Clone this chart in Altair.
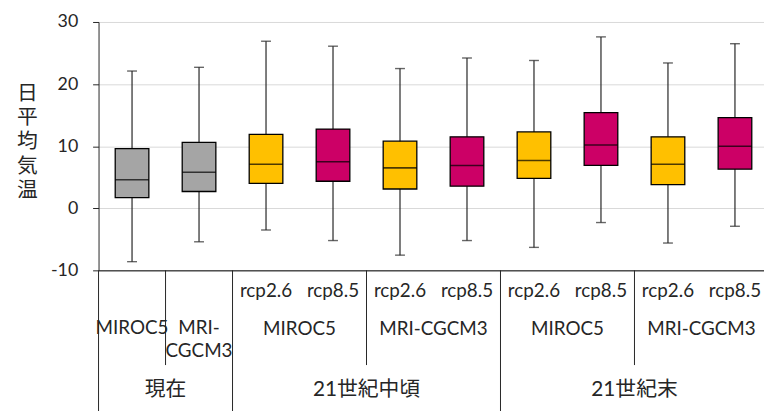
import altair as alt
import pandas as pd

# ---- data ----
keys = ["now_MIROC5", "now_MRI", "mid_MIROC5_26", "mid_MIROC5_85", "mid_MRI_26",
        "mid_MRI_85", "end_MIROC5_26", "end_MIROC5_85", "end_MRI_26", "end_MRI_85"]
groups = ["現在", "現在", "rcp2.6", "rcp8.5", "rcp2.6", "rcp8.5", "rcp2.6", "rcp8.5", "rcp2.6", "rcp8.5"]
w_low = [-8.6, -5.4, -3.5, -5.2, -7.55, -5.2, -6.3, -2.3, -5.6, -2.9]
q1 = [1.7, 2.7, 4.0, 4.35, 3.1, 3.55, 4.8, 6.9, 3.8, 6.3]
median = [4.6, 5.8, 7.1, 7.5, 6.5, 6.9, 7.7, 10.2, 7.1, 10.0]
q3 = [9.6, 10.6, 11.9, 12.75, 10.8, 11.5, 12.3, 15.4, 11.5, 14.6]
w_high = [22.1, 22.7, 26.9, 26.1, 22.5, 24.2, 23.8, 27.6, 23.4, 26.5]

scenario_keys = keys[2:]
scenario_labels = ["rcp2.6", "rcp8.5"] * 4
now_model_keys = keys[0:2]
now_model_labels = ["MIROC5", "MRI-\nCGCM3"]
pair_model_keys = [keys[2], keys[4], keys[6], keys[8]]
pair_model_labels = ["MIROC5", "MRI-CGCM3", "MIROC5", "MRI-CGCM3"]
period_keys = [keys[0], keys[3], keys[7]]
period_labels = ["現在", "21世紀中頃", "21世紀末"]
tall_sep_keys = [keys[0], keys[2], keys[6]]
mid_sep_keys = [keys[1], keys[4], keys[8]]

group_domain = ["現在", "rcp2.6", "rcp8.5"]
group_colors = ["#A5A5A5", "#FFC000", "#CC0066"]

df = pd.DataFrame({"key": keys, "group": groups, "lo": w_low, "q1": q1,
                   "med": median, "q3": q3, "hi": w_high})

TXT = "#262626"
LFONT = "Lato, Noto Sans CJK JP"

xscale = alt.Scale(domain=keys, range=[0, 677], paddingInner=0, paddingOuter=0)
xaxis = alt.Axis(labels=False, ticks=False, title=None, grid=False,
                 domainColor="#000000", domainWidth=1)


def X(bp=0.5):
    return alt.X("key:N", scale=xscale, axis=xaxis, bandPosition=bp)


yscale = alt.Scale(domain=[-10, 30], nice=False)
yaxis = alt.Axis(values=[-10, 0, 10, 20, 30], grid=True, gridColor="#D9D9D9", gridWidth=1,
                 domainColor=TXT, tickColor=TXT, tickSize=6, labelPadding=15,
                 labelFontSize=18, labelFont=LFONT, labelColor=TXT,
                 labelExpr="datum.value + ''",
                 title=["日", "平", "均", "気", "温"], titleAngle=0, titleX=-72.5, titleY=72.5,
                 titleAlign="center", titleBaseline="middle", titleFontSize=21,
                 titleFont="Noto Sans CJK JP", titleFontWeight="normal",
                 titleLineHeight=24.4, titleColor=TXT)

base = alt.Chart(df)

whisk = base.mark_rule(color="#262626", strokeWidth=1.2).encode(
    x=X(), y=alt.Y("lo:Q", scale=yscale, axis=yaxis), y2="hi:Q")
caps_lo = base.mark_tick(color="#262626", size=10, thickness=1.4).encode(
    x=X(), y=alt.Y("lo:Q", scale=yscale, axis=yaxis))
caps_hi = base.mark_tick(color="#262626", size=10, thickness=1.4).encode(
    x=X(), y=alt.Y("hi:Q", scale=yscale, axis=yaxis))
boxes = base.mark_bar(size=34, stroke="#000000", strokeWidth=1.3).encode(
    x=X(), y=alt.Y("q1:Q", scale=yscale, axis=yaxis), y2="q3:Q",
    color=alt.Color("group:N", scale=alt.Scale(domain=group_domain, range=group_colors), legend=None))
meds = base.mark_tick(color="#000000", size=34, thickness=1.6).encode(
    x=X(), y=alt.Y("med:Q", scale=yscale, axis=yaxis))

scen = alt.Chart(pd.DataFrame({"key": scenario_keys, "t": scenario_labels})).mark_text(
    fontSize=19, font=LFONT, color=TXT, baseline="middle", align="center").encode(
    x=X(), y=alt.value(272), text="t:N")
now_models = alt.Chart(pd.DataFrame({"key": now_model_keys, "t": now_model_labels})).mark_text(
    fontSize=19, font=LFONT, color=TXT, baseline="top", align="center", lineBreak="\n",
    lineHeight=23).encode(x=X(), y=alt.value(300.7), text="t:N")
pair_models = alt.Chart(pd.DataFrame({"key": pair_model_keys, "t": pair_model_labels})).mark_text(
    fontSize=19, font=LFONT, color=TXT, baseline="middle", align="center").encode(
    x=X(1), y=alt.value(310), text="t:N")
periods = alt.Chart(pd.DataFrame({"key": period_keys, "t": period_labels})).mark_text(
    fontSize=21, font=LFONT, color=TXT, baseline="middle", align="center").encode(
    x=X(1), y=alt.value(372), text="t:N")
tall = alt.Chart(pd.DataFrame({"key": tall_sep_keys})).mark_rule(color=TXT, strokeWidth=1).encode(
    x=X(0), y=alt.value(251), y2=alt.value(400))
mid = alt.Chart(pd.DataFrame({"key": mid_sep_keys})).mark_rule(color=TXT, strokeWidth=1).encode(
    x=X(0), y=alt.value(251), y2=alt.value(346.7))

chart = alt.layer(whisk, caps_lo, caps_hi, boxes, meds, scen, now_models, pair_models,
                  periods, tall, mid).properties(
    width=672.5, height=251,
    autosize=alt.AutoSizeParams(type="none"),
    padding={"left": 91.5, "top": 12, "right": 0, "bottom": 140},
).configure_view(stroke=None)

chart.save("out.html", embed_options={"renderer": "svg", "actions": False})
